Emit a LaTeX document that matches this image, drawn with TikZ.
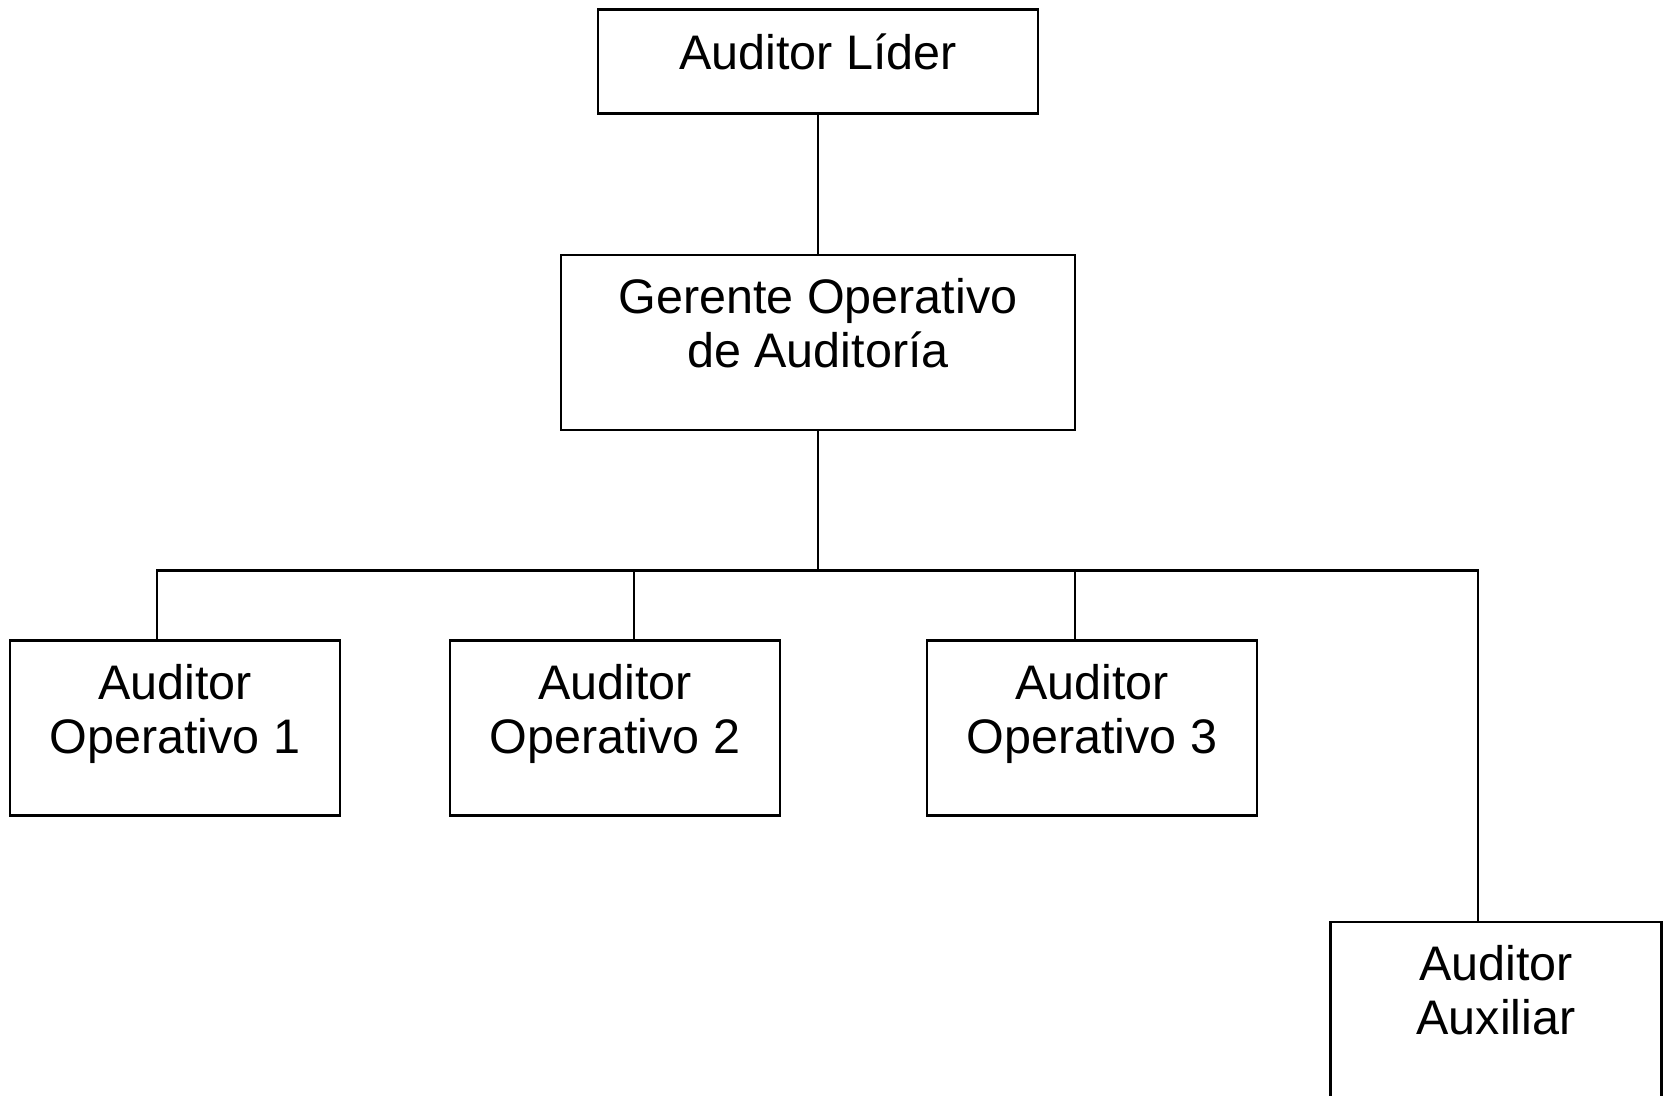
\documentclass[tikz,border=0pt]{standalone}
\usepackage{fontspec}
\setmainfont{Liberation Sans}
\usetikzlibrary{positioning}

\begin{document}
\begin{tikzpicture}[x=1pt,y=-1pt,
    box/.style={rectangle,draw,line width=2.8pt,inner sep=0pt,
                minimum width=330pt,minimum height=175pt},
    txt/.style={anchor=north,align=center,inner sep=0pt,yshift=-25pt,
                font=\fontsize{48.5}{54}\selectfont},
    lnk/.style={line width=2.8pt}
  ]
    \useasboundingbox (0,0) rectangle (1665,1095);
    \node[box,minimum width=440pt,minimum height=104pt] (lider) at (818,61.6)
      [label={[txt]north:Auditor Líder}] {};
    \node[box,minimum width=514pt] (gerente) at (818,342.5)
      [label={[txt]north:{Gerente Operativo\\de Auditoría}}] {};
    \node[box] (ao1) at (175,728) [label={[txt]north:{Auditor\\Operativo 1}}] {};
    \node[box] (ao2) at (615,728) [label={[txt]north:{Auditor\\Operativo 2}}] {};
    \node[box] (ao3) at (1092,728) [label={[txt]north:{Auditor\\Operativo 3}}] {};
    \node[box,minimum width=331pt] (aux) at (1496,1009.5)
      [label={[txt]north:{Auditor\\Auxiliar}}] {};
    % bus line
    \coordinate (bus) at (818,570.3);
    \coordinate (d1) at (157,570.3);
    \coordinate (d2) at (634,570.3);
    \coordinate (d3) at (1075,570.3);
    \coordinate (d4) at (1478,570.3);
    \draw[lnk] (lider) -- (gerente);
    \draw[lnk] (gerente) -- (bus);
    \draw[lnk] (d1 |- ao1.north) -- (d1) -- (d4) -- (d4 |- aux.north);
    \draw[lnk] (d2) -- (d2 |- ao2.north);
    \draw[lnk] (d3) -- (d3 |- ao3.north);
  \end{tikzpicture}
\end{document}
